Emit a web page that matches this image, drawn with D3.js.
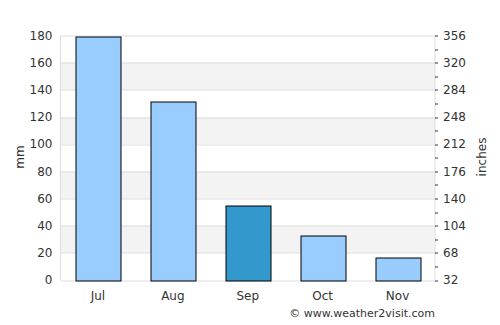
<!DOCTYPE html>
<html>
<head>
<meta charset="utf-8">
<script src="https://cdn.jsdelivr.net/npm/d3@7"></script>
<style>
  body { margin: 0; background: #fff; }
  svg { display: block; font-family: "DejaVu Sans", sans-serif; }
</style>
</head>
<body>
<svg id="chart"></svg>
<script>
// monthly rainfall
const months = ["Jul", "Aug", "Sep", "Oct", "Nov"];
const rainfall = [179, 131.5, 54.5, 32.5, 16.5];
const highlight = "Sep";
const leftTicks = [0, 20, 40, 60, 80, 100, 120, 140, 160, 180];
const rightTicks = [32, 68, 104, 140, 176, 212, 248, 284, 320, 356];

const width = 500, height = 325;
const margin = { top: 35.5, right: 65, bottom: 45, left: 60.5 };
const innerW = width - margin.left - margin.right;
const innerH = height - margin.top - margin.bottom;

const svg = d3.select("#chart").attr("width", width).attr("height", height);
const chart = svg.append("g").attr("transform", `translate(${margin.left},${margin.top})`);

const x = d3.scaleBand().domain(months).range([0, innerW]).paddingInner(0.4).paddingOuter(0.2);
const y = d3.scaleLinear().domain([0, 180]).range([innerH, 0]);
const y2 = d3.scaleLinear().domain([32, 356]).range([innerH, 0]);

// alternating grey stripes
const stripes = leftTicks.slice(0, -1).filter((d, i) => i % 2 === 1);
chart.selectAll(".stripe").data(stripes).enter().append("rect")
  .attr("x", 0).attr("width", innerW)
  .attr("y", d => y(d + 20)).attr("height", d => y(d) - y(d + 20))
  .attr("fill", "#f3f3f3");

// grid lines
chart.selectAll(".grid").data(leftTicks).enter().append("line")
  .attr("x1", 0).attr("x2", innerW)
  .attr("y1", d => Math.round(y(d)) + 0.5).attr("y2", d => Math.round(y(d)) + 0.5)
  .attr("stroke", "#dddddd");

// plot frame
chart.append("line").attr("x1", 0).attr("x2", 0).attr("y1", 0).attr("y2", innerH).attr("stroke", "#dddddd");
chart.append("line").attr("x1", innerW).attr("x2", innerW).attr("y1", 0).attr("y2", innerH).attr("stroke", "#dddddd");

// bars
chart.selectAll(".bar").data(months).enter().append("rect")
  .attr("x", d => Math.round(x(d)) + 0.5)
  .attr("width", Math.round(x.bandwidth()))
  .attr("y", (d, i) => Math.round(y(rainfall[i])) + 0.5)
  .attr("height", (d, i) => Math.round(innerH) - Math.round(y(rainfall[i])))
  .attr("fill", d => d === highlight ? "#3399cc" : "#99ccff")
  .attr("stroke", "#000").attr("stroke-width", 1);

// left axis labels
chart.selectAll(".ltick").data(leftTicks).enter().append("text")
  .attr("x", -8).attr("y", d => y(d)).attr("dy", "0.35em")
  .attr("text-anchor", "end").attr("font-size", 12).attr("fill", "#333")
  .text(d => d);

// right axis ticks and labels
const minor = d3.range(32, 357, 18);
chart.selectAll(".rtick").data(minor).enter().append("line")
  .attr("x1", innerW).attr("x2", innerW + 3)
  .attr("y1", d => Math.round(y2(d)) + 0.5).attr("y2", d => Math.round(y2(d)) + 0.5)
  .attr("stroke", "#333");
chart.selectAll(".rlabel").data(rightTicks).enter().append("text")
  .attr("x", innerW + 8).attr("y", d => y2(d)).attr("dy", "0.35em")
  .attr("font-size", 12).attr("fill", "#333")
  .text(d => d);

// month labels
chart.selectAll(".xlabel").data(months).enter().append("text")
  .attr("x", d => x(d) + x.bandwidth() / 2).attr("y", innerH + 20)
  .attr("text-anchor", "middle").attr("font-size", 12).attr("fill", "#333")
  .text(d => d);

// axis titles
svg.append("text").attr("transform", "rotate(-90)")
  .attr("x", -157).attr("y", 24).attr("text-anchor", "middle")
  .attr("font-size", 12).attr("fill", "#333").text("mm");
svg.append("text").attr("transform", "rotate(-90)")
  .attr("x", -157).attr("y", 486).attr("text-anchor", "middle")
  .attr("font-size", 12).attr("fill", "#333").text("inches");

svg.append("text").attr("x", 435).attr("y", 317).attr("text-anchor", "end")
  .attr("font-size", 11).attr("fill", "#333").text("© www.weather2visit.com");
</script>
</body>
</html>
